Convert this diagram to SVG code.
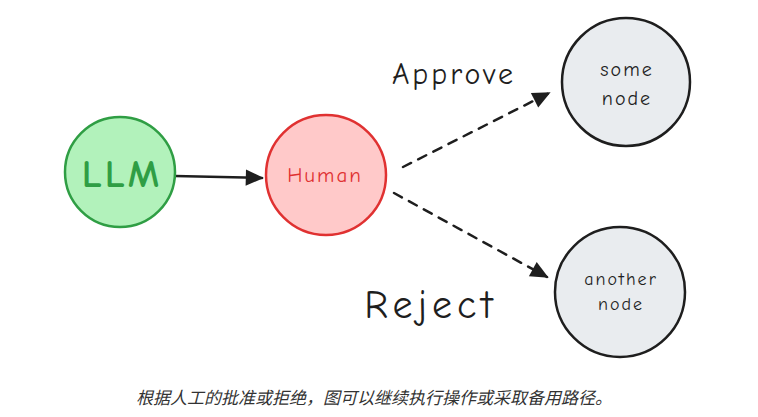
<svg xmlns="http://www.w3.org/2000/svg" width="758" height="417" viewBox="0 0 758 417">
<style>
.hand{font-family:"Comic Neue","Liberation Sans","DejaVu Sans",sans-serif;text-anchor:middle}
.node{stroke-width:2.5}
.edge{fill:none;stroke:#1e1e1e;stroke-width:2.5;stroke-linecap:round}
.dash{stroke-dasharray:9 8}
.cap{font-family:"Liberation Sans","Noto Sans CJK SC",sans-serif;font-style:italic;font-size:17px;fill:#333;text-anchor:middle}
</style>
<defs>
<marker id="ahb" viewBox="0 0 10 10" refX="9" refY="5" markerWidth="20" markerHeight="18" markerUnits="userSpaceOnUse" orient="auto">
<path d="M0,0.5 L10,5 L0,9.5 Z" fill="#1e1e1e"/>
</marker>
</defs>
<rect width="758" height="417" fill="#fff"/>
<g id="edges">
<path class="edge" d="M175,176 L262,178" marker-end="url(#ahb)"/>
<path class="edge dash" d="M403,167 L549,93" marker-end="url(#ahb)"/>
<path class="edge dash" d="M394,193 L547,277" marker-end="url(#ahb)"/>
</g>
<g id="llm">
<circle class="node" cx="120" cy="172" r="55" fill="#b2f2bb" stroke="#2f9e44"/>
<text class="hand" x="122" y="187" font-size="39" letter-spacing="3" font-weight="bold" fill="#2f9e44">LLM</text>
</g>
<g id="human">
<circle class="node" cx="326" cy="175" r="60" fill="#ffc9c9" stroke="#e03131"/>
<text class="hand" x="325" y="182" font-size="21" letter-spacing="2" fill="#e03131">Human</text>
</g>
<g id="some-node">
<circle class="node" cx="626" cy="82" r="64" fill="#e9ecef" stroke="#1e1e1e" stroke-width="3"/>
<text class="hand" x="627" y="76" font-size="20" letter-spacing="2" fill="#1e1e1e">some</text>
<text class="hand" x="627" y="105" font-size="20" letter-spacing="2" fill="#1e1e1e">node</text>
</g>
<g id="another-node">
<circle class="node" cx="620" cy="292" r="65" fill="#e9ecef" stroke="#1e1e1e" stroke-width="3"/>
<text class="hand" x="621" y="285" font-size="18" letter-spacing="2" fill="#1e1e1e">another</text>
<text class="hand" x="621" y="310" font-size="18" letter-spacing="2" fill="#1e1e1e">node</text>
</g>
<g id="labels">
<text class="hand" x="454" y="84" font-size="30" letter-spacing="3" fill="#1e1e1e">Approve</text>
<text class="hand" x="431" y="318" font-size="40" letter-spacing="5" fill="#1e1e1e">Reject</text>
</g>
<text class="cap" x="374" y="404">根据人工的批准或拒绝，图可以继续执行操作或采取备用路径。</text>
</svg>
